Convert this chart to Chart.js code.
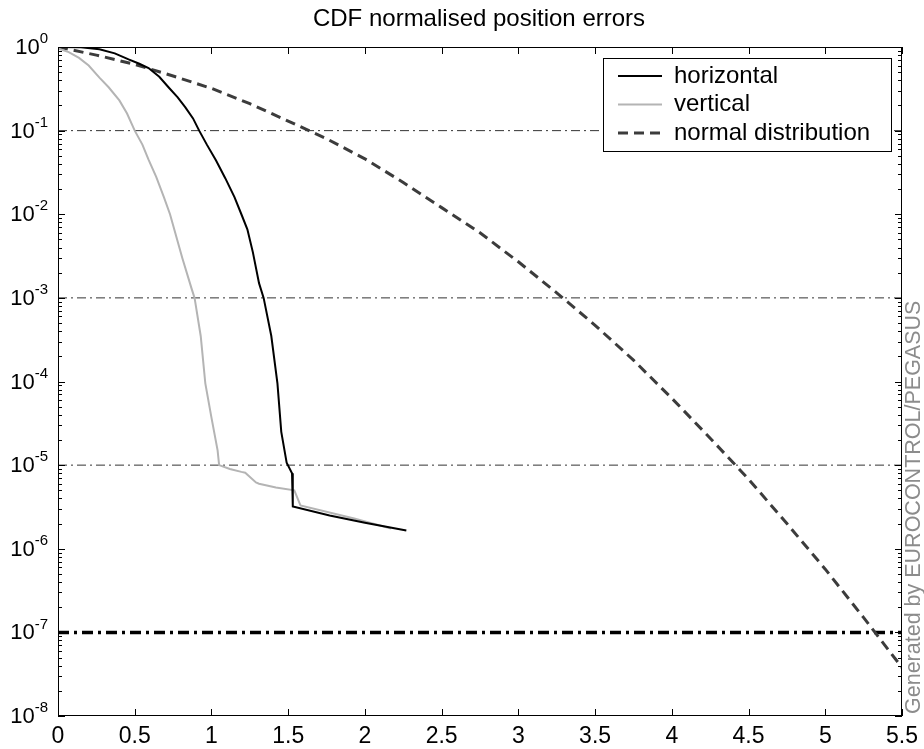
<!DOCTYPE html>
<html>
<head>
<meta charset="utf-8">
<script src="https://cdn.jsdelivr.net/npm/chart.js@4"></script>
<style>
  html, body { margin: 0; padding: 0; background: #fff; }
  #wrap { width: 924px; height: 749px; }
</style>
</head>
<body>
<div id="wrap"><canvas id="cdfChart" width="924" height="749"></canvas></div>
<script>
// ---- data ----
const chartTitle = 'CDF normalised position errors';
const seriesNames = ['horizontal', 'vertical', 'normal distribution'];

const horizX = [0, 0.15, 0.27, 0.37, 0.46, 0.53, 0.59, 0.66, 0.72, 0.78, 0.83, 0.88, 0.92, 0.97, 1.03, 1.09, 1.15, 1.195, 1.234, 1.27, 1.31, 1.34, 1.39, 1.43, 1.455, 1.49, 1.525, 1.53, 1.77, 2.0, 2.27];
const horizY = [1, 0.99, 0.94, 0.84, 0.71, 0.63, 0.56, 0.44, 0.33, 0.25, 0.19, 0.14, 0.10, 0.068, 0.044, 0.027, 0.016, 0.01, 0.0066, 0.0035, 0.0015, 0.001, 3.5e-4, 9.5e-5, 2.5e-5, 1.07e-5, 8e-6, 3.2e-6, 2.5e-6, 2.05e-6, 1.65e-6];

const vertX = [0, 0.07, 0.137, 0.2, 0.27, 0.33, 0.40, 0.45, 0.50, 0.55, 0.59, 0.64, 0.69, 0.73, 0.81, 0.87, 0.89, 0.93, 0.96, 1.0, 1.04, 1.05, 1.12, 1.195, 1.22, 1.29, 1.31, 1.42, 1.54, 1.58, 1.93, 2.17];
const vertY = [0.96, 0.87, 0.74, 0.60, 0.43, 0.33, 0.23, 0.16, 0.10, 0.068, 0.045, 0.028, 0.016, 0.01, 0.003, 0.0013, 0.001, 3.5e-4, 9.5e-5, 3.7e-5, 1.5e-5, 1.0e-5, 9e-6, 8.3e-6, 8.1e-6, 6.2e-6, 6.0e-6, 5.4e-6, 5.0e-6, 3.3e-6, 2.3e-6, 1.75e-6];

const normX = [0, 0.25, 0.5, 0.75, 1, 1.25, 1.5, 1.75, 2, 2.25, 2.5, 2.75, 3, 3.25, 3.5, 3.75, 4, 4.25, 4.5, 4.75, 5, 5.25, 5.5];
const normY = [1, 0.80, 0.62, 0.45, 0.32, 0.21, 0.13, 0.08, 0.046, 0.024, 0.012, 0.006, 0.0027, 0.00115, 4.7e-4, 1.8e-4, 6.3e-5, 2.1e-5, 6.8e-6, 2.0e-6, 5.7e-7, 1.5e-7, 3.8e-8];

const refLevels = [1e-1, 1e-3, 1e-5];   // thin dash-dot lines
const targetLevel = 1e-7;               // thick dash-dot line
const xTicks = [0, 0.5, 1, 1.5, 2, 2.5, 3, 3.5, 4, 4.5, 5, 5.5];
const yExponents = [0, -1, -2, -3, -4, -5, -6, -7, -8];
const xMin = 0, xMax = 5.5, yMin = 1e-8, yMax = 1;

const FONT = '"Liberation Sans", Arial, sans-serif';

function pts(xs, ys) { return xs.map((x, i) => ({x: x, y: ys[i]})); }
function hline(v) { return [{x: xMin, y: v}, {x: xMax, y: v}]; }

const datasets = [
  { label: seriesNames[0], data: pts(horizX, horizY), borderColor: '#000000', borderWidth: 2, order: 1 },
  { label: seriesNames[1], data: pts(vertX, vertY), borderColor: '#b4b4b4', borderWidth: 2, order: 2 },
  { label: seriesNames[2], data: pts(normX, normY), borderColor: '#3c3c3c', borderWidth: 3, borderDash: [10, 6], order: 3 }
];
refLevels.forEach(v => datasets.push({
  label: 'ref', data: hline(v), borderColor: '#333333', borderWidth: 1, borderDash: [9, 4, 2, 4], order: 10
}));
datasets.push({ label: 'target', data: hline(targetLevel), borderColor: '#000000', borderWidth: 3.5, borderDash: [11, 5, 3, 5], order: 9 });
datasets.forEach(d => { d.pointRadius = 0; d.fill = false; d.tension = 0; });

// axes box, inward ticks, tick labels, title, legend, watermark
const matlabAxes = {
  id: 'matlabAxes',
  afterDraw(chart) {
    const ctx = chart.ctx, a = chart.chartArea;
    const xs = chart.scales.x, ys = chart.scales.y;
    ctx.save();
    ctx.strokeStyle = '#000';
    ctx.lineWidth = 1;
    ctx.strokeRect(a.left + 0.5, a.top + 0.5, a.right - a.left - 1, a.bottom - a.top - 1);

    ctx.beginPath();
    xTicks.forEach(t => {
      const px = Math.round(xs.getPixelForValue(t)) + 0.5;
      ctx.moveTo(px, a.bottom); ctx.lineTo(px, a.bottom - 7);
      ctx.moveTo(px, a.top); ctx.lineTo(px, a.top + 7);
    });
    yExponents.forEach(e => {
      for (let m = 1; m <= 9; m++) {
        const v = m * Math.pow(10, e);
        if (v > yMax * 1.0001 || v < yMin * 0.9999) continue;
        const py = Math.round(ys.getPixelForValue(v)) + 0.5;
        const len = m === 1 ? 7 : 4;
        ctx.moveTo(a.left, py); ctx.lineTo(a.left + len, py);
        ctx.moveTo(a.right, py); ctx.lineTo(a.right - len, py);
      }
    });
    ctx.stroke();

    ctx.fillStyle = '#000';
    ctx.font = '23px ' + FONT;
    ctx.textAlign = 'center';
    ctx.textBaseline = 'middle';
    xTicks.forEach(t => ctx.fillText(String(t), xs.getPixelForValue(t), a.bottom + 21));

    yExponents.forEach(e => {
      const py = ys.getPixelForValue(Math.pow(10, e));
      const ex = String(e);
      ctx.font = '15px ' + FONT;
      const ew = ctx.measureText(ex).width;
      ctx.textAlign = 'left';
      ctx.textBaseline = 'middle';
      const exLeft = a.left - 10 - ew;
      ctx.fillText(ex, exLeft, py - 8);
      ctx.font = '22px ' + FONT;
      ctx.textAlign = 'right';
      ctx.fillText('10', exLeft, py + 1);
    });

    ctx.font = '24px ' + FONT;
    ctx.textAlign = 'center';
    ctx.textBaseline = 'middle';
    ctx.fillText(chartTitle, 479, 19);

    // legend box inside the axes
    const lx = 603, ly = 58, lw = 288, lh = 93;
    ctx.fillStyle = '#fff';
    ctx.fillRect(lx, ly, lw, lh);
    ctx.strokeRect(lx + 0.5, ly + 0.5, lw, lh);
    ctx.font = '24px ' + FONT;
    [0, 1, 2].forEach(i => {
      const d = chart.data.datasets[i];
      const ry = ly + 18 + i * 28.5;
      ctx.save();
      ctx.strokeStyle = d.borderColor;
      ctx.lineWidth = d.borderWidth;
      ctx.setLineDash(d.borderDash || []);
      ctx.beginPath();
      ctx.moveTo(lx + 15, ry); ctx.lineTo(lx + 59, ry);
      ctx.stroke();
      ctx.restore();
      ctx.fillStyle = '#000';
      ctx.textAlign = 'left';
      ctx.textBaseline = 'middle';
      ctx.fillText(d.label, lx + 71, ry);
    });

    // watermark along the right edge
    ctx.save();
    ctx.translate(914, a.bottom - 2);
    ctx.rotate(-Math.PI / 2);
    ctx.fillStyle = '#8c8c8c';
    ctx.font = '21.5px ' + FONT;
    ctx.textAlign = 'left';
    ctx.textBaseline = 'middle';
    ctx.fillText('Generated by EUROCONTROL/PEGASUS', 0, 0);
    ctx.restore();
    ctx.restore();
  }
};

const ctx = document.getElementById('cdfChart');
const cdfChart = new Chart(ctx, {
  type: 'line',
  data: { datasets: datasets },
  options: {
    responsive: false,
    animation: false,
    layout: { padding: { left: 58, right: 22, top: 47, bottom: 33 } },
    plugins: { legend: { display: false }, tooltip: { enabled: false }, title: { display: false } },
    scales: {
      x: { type: 'linear', min: xMin, max: xMax, display: false },
      y: { type: 'logarithmic', min: yMin, max: yMax, display: false }
    }
  },
  plugins: [matlabAxes]
});
</script>
</body>
</html>
